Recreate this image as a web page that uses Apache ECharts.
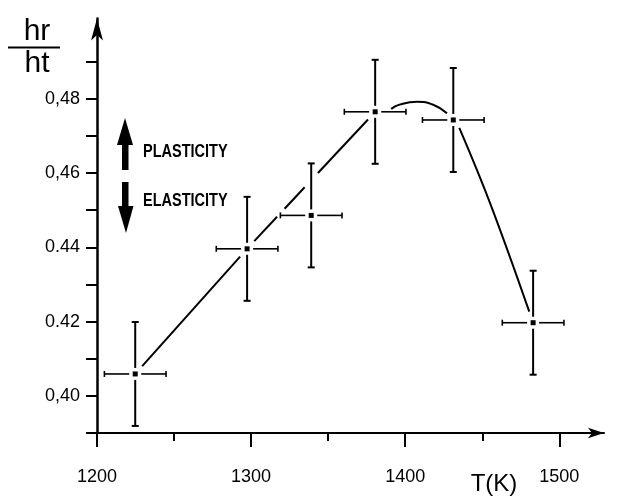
<!DOCTYPE html>
<html>
<head>
<meta charset="utf-8">
<script src="https://cdn.jsdelivr.net/npm/echarts@6/dist/echarts.min.js"></script>
<style>
html,body{margin:0;padding:0;background:#fff;}
#chart{width:619px;height:502px;}
</style>
</head>
<body>
<div id="chart"></div>
<script>
// ---- data ----
const tempK    = [1224.8, 1297.4, 1339.0, 1380.5, 1431.2, 1483.0];
const hrOverHt = [0.4059, 0.4396, 0.4486, 0.4765, 0.4743, 0.4197];
const errT     = [20, 20, 20, 20, 20, 20];
const errV     = [0.014, 0.014, 0.014, 0.014, 0.014, 0.014];

// hand-drawn guide curve (three pieces)
const trendT = [1224.8, 1297.4, 1380.5];
const trendV = [0.4059, 0.4396, 0.4765];
const arcT   = [1390.9, 1396.8, 1407.6, 1418.2, 1427.1];
const arcV   = [0.4773, 0.4785, 0.4792, 0.4784, 0.4761];
const fallT  = [1435.1, 1455.0, 1480.5];
const fallV  = [0.4722, 0.4520, 0.4227];

// axes
const xMajorTicks = [1200, 1300, 1400, 1500];
const xMinorTicks = [1250, 1350, 1450];
const xTickLabels = ['1200', '1300', '1400', '1500'];
const yTicks      = [0.39, 0.40, 0.41, 0.42, 0.43, 0.44, 0.45, 0.46, 0.47, 0.48, 0.49];
const yLabelVals  = [0.40, 0.42, 0.44, 0.46, 0.48];
const yTickLabels = ['0,40', '0.42', '0.44', '0,46', '0,48'];

const makePts = () => tempK.map((t, i) => [t, hrOverHt[i], errT[i], errV[i]]);
const pairs = (a, b) => a.map((v, i) => [v, b[i]]);

const FONT = "'Liberation Sans', Arial, sans-serif";
const chart = echarts.init(document.getElementById('chart'), null, {renderer: 'canvas'});

// clearance zones (pixels) round each marker and error bar, where the guide line is broken
function clearZones(api) {
  return tempK.map((tk, i) => {
    const c = api.coord([tk, hrOverHt[i]]);
    const l = api.coord([tk - errT[i], hrOverHt[i]]), r = api.coord([tk + errT[i], hrOverHt[i]]);
    const t = api.coord([tk, hrOverHt[i] + errV[i]]), b = api.coord([tk, hrOverHt[i] - errV[i]]);
    return {c, x0: l[0] - 3, x1: r[0] + 3, y0: t[1] - 3, y1: b[1] + 3};
  });
}
function insideZone(px, py, zones) {
  return zones.some(z =>
    (px >= z.x0 && px <= z.x1 && Math.abs(py - z.c[1]) <= 6.5) ||
    (py >= z.y0 && py <= z.y1 && Math.abs(px - z.c[0]) <= 6.5) ||
    (Math.hypot(px - z.c[0], py - z.c[1]) <= 10));
}

// straight guide segments, each item joins the previous trend point to this one
function trendItem(params, api) {
  const i = params.dataIndex;
  if (i === 0) return null;
  const p0 = api.coord([trendT[i - 1], trendV[i - 1]]);
  const p1 = api.coord([api.value(0), api.value(1)]);
  const zones = clearZones(api);
  const len = Math.hypot(p1[0] - p0[0], p1[1] - p0[1]);
  const n = Math.ceil(len * 2);
  const children = [];
  let start = null, prev = null;
  for (let k = 0; k <= n; k++) {
    const f = k / n;
    const px = p0[0] + (p1[0] - p0[0]) * f, py = p0[1] + (p1[1] - p0[1]) * f;
    const hidden = insideZone(px, py, zones);
    if (!hidden && start === null) start = [px, py];
    if (hidden && start !== null) {
      children.push({type: 'line', shape: {x1: start[0], y1: start[1], x2: prev[0], y2: prev[1]},
        style: {stroke: '#000', lineWidth: 2}});
      start = null;
    }
    prev = [px, py];
  }
  if (start !== null) {
    children.push({type: 'line', shape: {x1: start[0], y1: start[1], x2: prev[0], y2: prev[1]},
      style: {stroke: '#000', lineWidth: 2}});
  }
  return {type: 'group', children};
}

function barItem(params, api) {
  const x = api.value(0), y = api.value(1), ex = api.value(2), ey = api.value(3);
  const c = api.coord([x, y]), l = api.coord([x - ex, y]), r = api.coord([x + ex, y]);
  const t = api.coord([x, y + ey]), b = api.coord([x, y - ey]);
  const gap = 6, hc = 3, vc = 3.5;
  const hs = {stroke: '#000', lineWidth: 1.6};
  const vs = {stroke: '#000', lineWidth: 2};
  const seg = (x1, y1, x2, y2, s) => ({type: 'line', shape: {x1, y1, x2, y2}, style: s});
  return {type: 'group', children: [
    seg(l[0], c[1], c[0] - gap, c[1], hs),
    seg(c[0] + gap, c[1], r[0], c[1], hs),
    seg(l[0], c[1] - hc, l[0], c[1] + hc, hs),
    seg(r[0], c[1] - hc, r[0], c[1] + hc, hs),
    seg(c[0], t[1], c[0], c[1] - gap, vs),
    seg(c[0], c[1] + gap, c[0], b[1], vs),
    seg(c[0] - vc, t[1], c[0] + vc, t[1], vs),
    seg(c[0] - vc, b[1], c[0] + vc, b[1], vs),
    {type: 'rect', shape: {x: c[0] - 2.5, y: c[1] - 2.5, width: 5, height: 5}, style: {fill: '#000'}}
  ]};
}

const option = {
  animation: false,
  backgroundColor: '#fff',
  grid: {left: 97, right: 15, top: 18.6, bottom: 69, containLabel: false},
  xAxis: [{
    type: 'value', min: 1200, max: 1529,
    axisLine: {show: true, lineStyle: {color: '#000', width: 2}, symbol: ['none', 'arrow'], symbolSize: [8, 16]},
    axisTick: {show: true, customValues: xMajorTicks, length: 14, lineStyle: {color: '#000', width: 2}},
    axisLabel: {show: true, customValues: xMajorTicks, margin: 35, color: '#000', fontSize: 18, fontFamily: FONT,
      formatter: v => { const i = xMajorTicks.indexOf(Math.round(v)); return i >= 0 ? xTickLabels[i] : ''; }},
    splitLine: {show: false}
  }, {
    type: 'value', min: 1200, max: 1529, position: 'bottom', gridIndex: 0,
    axisLine: {show: false},
    axisTick: {show: true, customValues: xMinorTicks, length: 8, lineStyle: {color: '#000', width: 2}},
    axisLabel: {show: false},
    splitLine: {show: false}
  }],
  yAxis: {
    type: 'value', min: 0.39, max: 0.5016,
    axisLine: {show: true, lineStyle: {color: '#000', width: 2.5}, symbol: ['none', 'arrow'], symbolSize: [9, 22]},
    axisTick: {show: true, customValues: yTicks, length: 11, lineStyle: {color: '#000', width: 2}},
    axisLabel: {show: true, customValues: yLabelVals, margin: 17, color: '#000', fontSize: 18, fontFamily: FONT,
      padding: [0, 0, 7, 0],
      formatter: v => { const i = yLabelVals.findIndex(q => Math.abs(q - v) < 1e-6); return i >= 0 ? yTickLabels[i] : ''; }},
    splitLine: {show: false}
  },
  series: [
    {name: 'trend', type: 'custom', xAxisIndex: 0, yAxisIndex: 0, renderItem: trendItem,
      data: pairs(trendT, trendV), encode: {x: 0, y: 1}, silent: true},
    {name: 'points', type: 'custom', xAxisIndex: 0, yAxisIndex: 0, renderItem: barItem, data: makePts(), encode: {x: 0, y: 1}, silent: true},
    {name: 'arc', type: 'line', data: pairs(arcT, arcV), smooth: true, showSymbol: false, symbol: 'none',
      lineStyle: {color: '#000', width: 2}, silent: true},
    {name: 'fall', type: 'line', data: pairs(fallT, fallV), smooth: 0.4, showSymbol: false, symbol: 'none',
      lineStyle: {color: '#000', width: 2}, silent: true}
  ],
  graphic: [
    // y-axis title as a fraction hr / ht
    {type: 'text', style: {x: 37, y: 47, text: 'hr', textAlign: 'center', textVerticalAlign: 'bottom',
      fontSize: 30, fontFamily: FONT, fill: '#000'}},
    {type: 'line', shape: {x1: 8, y1: 47.5, x2: 60, y2: 47.5}, style: {stroke: '#000', lineWidth: 2}},
    {type: 'text', style: {x: 37, y: 49, text: 'ht', textAlign: 'center', textVerticalAlign: 'top',
      fontSize: 30, fontFamily: FONT, fill: '#000'}},
    // x-axis title
    {type: 'text', style: {x: 494, y: 472, text: 'T(K)', textAlign: 'center', textVerticalAlign: 'top',
      fontSize: 24, fontFamily: FONT, fill: '#000'}},
    // plasticity / elasticity arrows
    {type: 'rect', shape: {x: 122, y: 140, width: 6.5, height: 30}, style: {fill: '#000'}},
    {type: 'polygon', shape: {points: [[117, 145], [125, 118], [133, 145]]}, style: {fill: '#000'}},
    {type: 'rect', shape: {x: 122, y: 182, width: 6.5, height: 28}, style: {fill: '#000'}},
    {type: 'polygon', shape: {points: [[118, 206], [126, 233], [133.5, 206]]}, style: {fill: '#000'}},
    {type: 'text', x: 143, y: 151.5, scaleY: 1.25, style: {x: 0, y: 0, text: 'PLASTICITY', textAlign: 'left',
      textVerticalAlign: 'middle', fontSize: 14.5, fontWeight: 'bold', fontFamily: FONT, fill: '#000'}},
    {type: 'text', x: 143, y: 201, scaleY: 1.25, style: {x: 0, y: 0, text: 'ELASTICITY', textAlign: 'left',
      textVerticalAlign: 'middle', fontSize: 14.5, fontWeight: 'bold', fontFamily: FONT, fill: '#000'}}
  ]
};
chart.setOption(option);
</script>
</body>
</html>
